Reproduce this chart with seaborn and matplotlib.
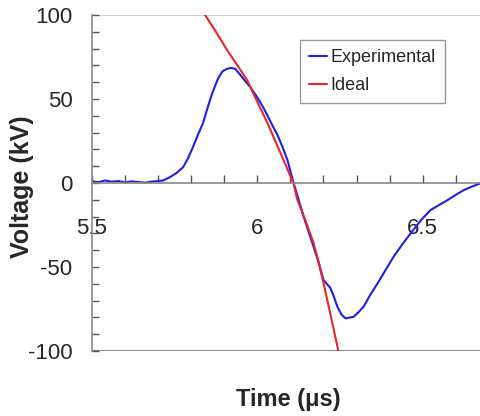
import numpy as np
import pandas as pd
import matplotlib
matplotlib.use("Agg")
import matplotlib.pyplot as plt
import seaborn as sns
from matplotlib.ticker import MultipleLocator

exp_time = [5.50, 5.52, 5.54, 5.56, 5.58, 5.60, 5.62, 5.64, 5.66, 5.68,
            5.70, 5.715, 5.736, 5.756, 5.776, 5.790, 5.806, 5.820, 5.836,
            5.850, 5.864, 5.882, 5.895, 5.909, 5.920, 5.933, 5.948, 5.964,
            5.979, 6.000, 6.015, 6.030, 6.045, 6.061, 6.076, 6.091, 6.109,
            6.125, 6.140, 6.155, 6.170, 6.185, 6.200, 6.210, 6.221, 6.232,
            6.242, 6.255, 6.267, 6.280, 6.291, 6.305, 6.321, 6.340, 6.364,
            6.390, 6.412, 6.440, 6.464, 6.495, 6.524, 6.550, 6.576, 6.600,
            6.624, 6.650, 6.676]
exp_volt = [1.0, 0.5, 1.5, 0.8, 1.2, 0.3, 1.0, 0.6, 0.2, 0.8,
            1.2, 1.5, 3.5, 6.0, 9.5, 14.5, 21.6, 28.5, 35.7,
            45.0, 53.6, 62.5, 66.5, 68.0, 68.5, 68.0, 64.5, 60.5,
            57.0, 51.0, 46.0, 40.5, 34.5, 28.6, 21.5, 13.7, 0.5,
            -10.0, -20.0, -29.0, -37.9, -47.0, -57.7, -60.0, -62.5, -68.0,
            -73.6, -78.5, -80.5, -80.0, -79.6, -77.0, -73.6, -67.0, -59.5,
            -51.0, -43.8, -36.0, -29.8, -22.0, -16.0, -13.0, -10.0, -7.0,
            -4.2, -2.0, 0.0]

# ideal waveform
ideal_time = [5.842, 5.875, 5.909, 5.940, 5.970, 5.991, 6.030, 6.070,
              6.109, 6.121, 6.145, 6.170, 6.185, 6.200, 6.222, 6.245]
ideal_volt = [100.0, 90.0, 79.0, 70.0, 61.0, 52.0, 36.0, 17.9,
              0.0, -10.0, -22.0, -35.7, -47.0, -59.5, -79.0, -100.0]

df = pd.concat([
    pd.DataFrame({"Time": exp_time, "Voltage": exp_volt, "Series": "Experimental"}),
    pd.DataFrame({"Time": ideal_time, "Voltage": ideal_volt, "Series": "Ideal"}),
])

sns.set_theme(style="white")
plt.rcParams["font.family"] = ["Liberation Sans", "DejaVu Sans"]
plt.rcParams["axes.unicode_minus"] = False

fig = plt.figure(figsize=(4.81, 4.16), dpi=100)
ax = fig.add_axes([0.191, 0.156, 0.809, 0.808])

sns.lineplot(data=df, x="Time", y="Voltage", hue="Series", sort=False,
             palette={"Experimental": "#1f1fe0", "Ideal": "#e8262a"},
             linewidth=1.5, ax=ax)

ax.set_xlim(5.5, 6.676)
ax.set_ylim(-100, 100)

# x axis runs through zero, labels sit below it
ax.spines["bottom"].set_position(("data", 0))
ax.spines["right"].set_visible(False)
ax.spines["top"].set_visible(False)
for sp in ["bottom", "left"]:
    ax.spines[sp].set_color("#8a8a8a")
    ax.spines[sp].set_linewidth(1.2)
ax.axhline(100, color="#c8c8c8", linewidth=1.2, zorder=0)
ax.axhline(-100, color="#8a8a8a", linewidth=1.5, zorder=0)

ax.xaxis.set_major_locator(MultipleLocator(0.5))
ax.xaxis.set_minor_locator(MultipleLocator(0.1))
ax.yaxis.set_major_locator(MultipleLocator(50))
ax.yaxis.set_minor_locator(MultipleLocator(10))
ax.set_xticks([5.5, 6.0, 6.5])
ax.set_xticklabels(["5.5", "6", "6.5"])
ax.tick_params(axis="x", which="both", direction="in", bottom=True, color="#555555",
               length=6, width=1, labelsize=16, pad=25)
ax.tick_params(axis="y", which="both", direction="in", left=True, color="#555555",
               length=5, width=1, labelsize=16, pad=14)

ax.set_xlabel("Time (\u03bcs)", fontsize=17, fontweight="bold")
ax.xaxis.set_label_coords(0.506, -0.11)
ax.set_ylabel("Voltage (kV)", fontsize=18, fontweight="bold")
ax.yaxis.set_label_coords(-0.15, 0.49)

leg = ax.legend(loc="upper left", bbox_to_anchor=(0.535, 0.925), frameon=True,
                fancybox=False, fontsize=13, handlelength=1.0, handletextpad=0.2,
                borderpad=0.5, labelspacing=0.6, borderaxespad=0)
leg.get_frame().set_edgecolor("#808080")
leg.get_frame().set_linewidth(1.0)

fig.savefig("out.png", dpi=100)
